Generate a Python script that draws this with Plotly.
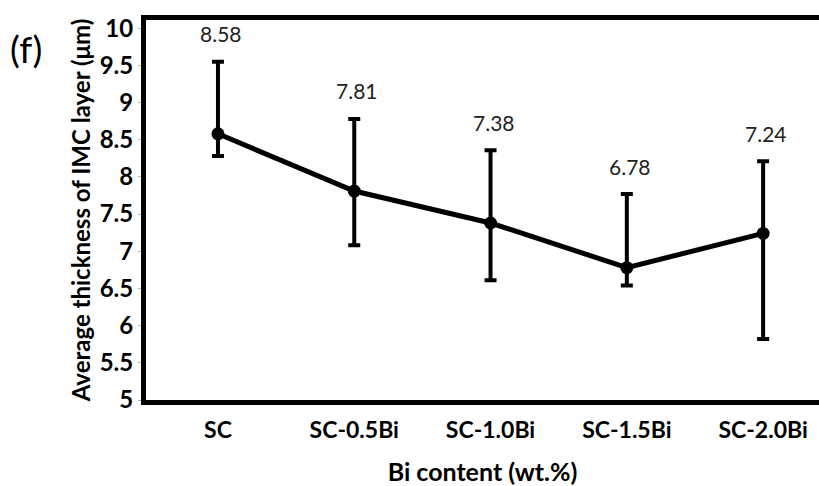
import plotly.graph_objects as go

categories = ["SC", "SC-0.5Bi", "SC-1.0Bi", "SC-1.5Bi", "SC-2.0Bi"]
thickness = [8.58, 7.81, 7.38, 6.78, 7.24]
err_plus = [0.97, 0.97, 0.98, 0.99, 0.97]
err_minus = [0.30, 0.73, 0.77, 0.24, 1.42]
value_labels = ["8.58", "7.81", "7.38", "6.78", "7.24"]
y_ticks = [5, 5.5, 6, 6.5, 7, 7.5, 8, 8.5, 9, 9.5, 10]

FONT = "Lato"

fig = go.Figure()
fig.add_trace(go.Scatter(
    x=categories, y=thickness, mode="lines+markers",
    line=dict(color="black", width=5),
    marker=dict(color="black", size=13),
    error_y=dict(type="data", symmetric=False, array=err_plus, arrayminus=err_minus,
                 color="black", thickness=4, width=6),
    showlegend=False,
))

for c, v, ep, t in zip(categories, thickness, err_plus, value_labels):
    fig.add_annotation(x=c, y=v + ep, text=t, showarrow=False, yanchor="middle",
                       yshift=28, xshift=3,
                       font=dict(family=FONT, size=21, color="#222"))

fig.add_annotation(xref="paper", yref="paper", x=-0.205, y=0.925, text="(f)",
                   showarrow=False, xanchor="left", yanchor="middle",
                   font=dict(family=FONT, size=37, color="black"))

fig.update_layout(
    width=819, height=486,
    margin=dict(l=146, r=0, t=20, b=84),
    paper_bgcolor="white", plot_bgcolor="white",
    font=dict(family=FONT, color="black"),
    xaxis=dict(
        range=[-0.528, 4.41], showgrid=False, zeroline=False,
        showline=True, linecolor="black", linewidth=5, mirror=True,
        ticks="", ticklabelstandoff=5,
        tickfont=dict(family=FONT, size=23, color="black", weight="bold"),
        title=dict(text="Bi content (wt.%)", standoff=26,
                   font=dict(family=FONT, size=25, color="black", weight="bold")),
    ),
    yaxis=dict(
        range=[5, 10.11], tickvals=y_ticks, ticktext=[f"{t:g}" for t in y_ticks],
        showgrid=False, zeroline=False,
        showline=True, linecolor="black", linewidth=5, mirror=False,
        ticks="outside", ticklen=3, tickcolor="#bbb",
        tickfont=dict(family=FONT, size=24, color="black", weight="bold"),
        title=dict(text="Average thickness of IMC layer (μm)", standoff=4,
                   font=dict(family=FONT, size=24, color="black", weight="bold")),
    ),
)

fig.write_html("out.html")
